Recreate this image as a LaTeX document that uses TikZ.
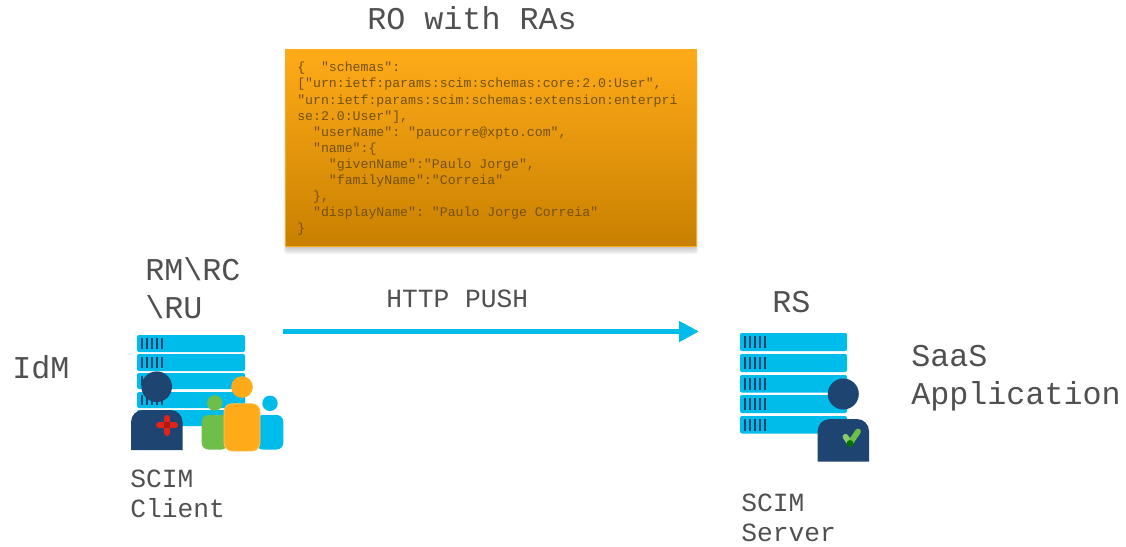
\documentclass[tikz,border=0pt]{standalone}
\usepackage{fontspec}
\setmonofont{Liberation Mono}
\usetikzlibrary{arrows.meta}
\definecolor{barblue}{HTML}{00BCEB}
\definecolor{navy}{HTML}{1E4471}
\definecolor{leaf}{HTML}{6EBE4A}
\definecolor{amber}{HTML}{FFAB19}
\definecolor{deepamber}{HTML}{C98000}
\definecolor{textgray}{HTML}{505050}
\definecolor{codebrown}{HTML}{735210}
\definecolor{crossred}{HTML}{E2231A}
\newcommand{\bigmono}{\ttfamily\fontsize{23.8}{28.5}\selectfont}
\newcommand{\midmono}{\ttfamily\fontsize{19.7}{22.5}\selectfont}
\begin{document}
\begin{tikzpicture}[x=0.75pt,y=-0.75pt,
	biglabel/.style={font=\bigmono,text=textgray,inner sep=0pt,align=left},
	midlabel/.style={font=\midmono,text=textgray,inner sep=0pt,align=left},
	bar/.style={fill=barblue,rounded corners=1.5pt},
	tick/.style={draw=navy,line width=1.8pt}]
\useasboundingbox (0,0) rectangle (1126,546);
% json box
\foreach \d in {1,...,6}
	\fill[black,opacity=0.04,rounded corners=2pt] (287-\d*0.5,60) rectangle (695+\d*0.5,247+\d*1.2);
\node[draw=amber,line width=1pt,top color=amber,bottom color=deepamber,
	minimum width=308pt,minimum height=147.5pt,inner sep=0pt] (box) at (491,148) {};
\node[anchor=north west,inner sep=0pt,align=left,text=codebrown,font=\ttfamily\fontsize{9.9}{12.07}\selectfont] (json) at (297,62)
	{\{~~"schemas":\\
	{[}"urn:ietf:params:scim:schemas:core:2.0:User",\\
	"urn:ietf:params:scim:schemas:extension:enterpri\\
	se:2.0:User"],\\
	~~"userName":~"paucorre@xpto.com",\\
	~~"name":\{\\
	~~~~"givenName":"Paulo~Jorge",\\
	~~~~"familyName":"Correia"\\
	~~\},\\
	~~"displayName":~"Paulo~Jorge~Correia"\\
	\}};
\node[biglabel,anchor=west] (title) at (367,18) {RO with RAs};
\node[biglabel,anchor=north west] (client) at (145,257) {RM\textbackslash RC\\\textbackslash RU};
\node[biglabel,anchor=west] (idm) at (12,367.5) {IdM};
\node[biglabel,anchor=west] (rs) at (772,302) {RS};
\node[biglabel,anchor=north west] (saas) at (911,344.5) {SaaS\\Application};
\node[midlabel,anchor=west] (push) at (386,299) {HTTP PUSH};
\node[midlabel,anchor=north west] (scimc) at (130,469.5) {SCIM\\Client};
\node[midlabel,anchor=north west] (scims) at (741,494) {SCIM\\Server};
% push arrow
\coordinate (from) at (283,331.5);
\coordinate (to) at (699,331.5);
\draw[barblue,line width=3.6pt,-{Triangle[length=15pt,width=15pt]}] (from) -- (to);
% left server
\foreach \y/\h in {335/17,354/17,373/16,392/16,410/16} {
	\fill[bar] (137,\y) rectangle (245,\y+\h);
	\foreach \x in {142,147,152,157,162}
		\draw[tick] (\x,\y+3) -- (\x,\y+\h-3);
}
\fill[navy] (156.7,386.7) circle (15.3);
\fill[navy] (131,450) [rounded corners=9pt] -- (131,410) -- (182.5,410) [sharp corners] -- (182.5,450) -- cycle;
\draw[crossred,line width=4.5pt,line cap=round] (159,425.3) -- (175,425.3);
\draw[crossred,line width=4.5pt,line cap=round] (167,418) -- (167,433);
\fill[crossred!75!black] (164,422.3) rectangle (170,428.3);
% people
\fill[leaf] (214.7,403) circle (7.7);
\fill[leaf,rounded corners=5pt] (201.7,415) rectangle (228,449.5);
\fill[barblue] (270,403.3) circle (7.7);
\fill[barblue,rounded corners=5pt] (256,415) rectangle (283.3,449.5);
\fill[amber] (242,387) circle (10.8);
\draw[amber!70!white,fill=amber,line width=0.6pt,rounded corners=6pt] (224,403.7) rectangle (260,451);
% right server
\foreach \y/\h in {333/18,354/18,375/17.5,395/18,416/17.5} {
	\fill[bar] (740,\y) rectangle (847,\y+\h);
	\foreach \x in {745,750,755,760,765}
		\draw[tick] (\x,\y+3) -- (\x,\y+\h-3);
}
\fill[navy] (843.3,394) circle (15.5);
\fill[navy] (817.7,461.7) [rounded corners=9pt] -- (817.7,419) -- (869,419) [sharp corners] -- (869,461.7) -- cycle;
\draw[leaf!80!white,line width=4.3pt,line cap=round] (845.5,436.7) -- (850,443.3);
\draw[leaf,line width=4.3pt,line cap=round] (850,443.3) -- (858,431.5);
\fill[green!45!black] (850,443.5) circle (3.4);
\end{tikzpicture}
\end{document}
